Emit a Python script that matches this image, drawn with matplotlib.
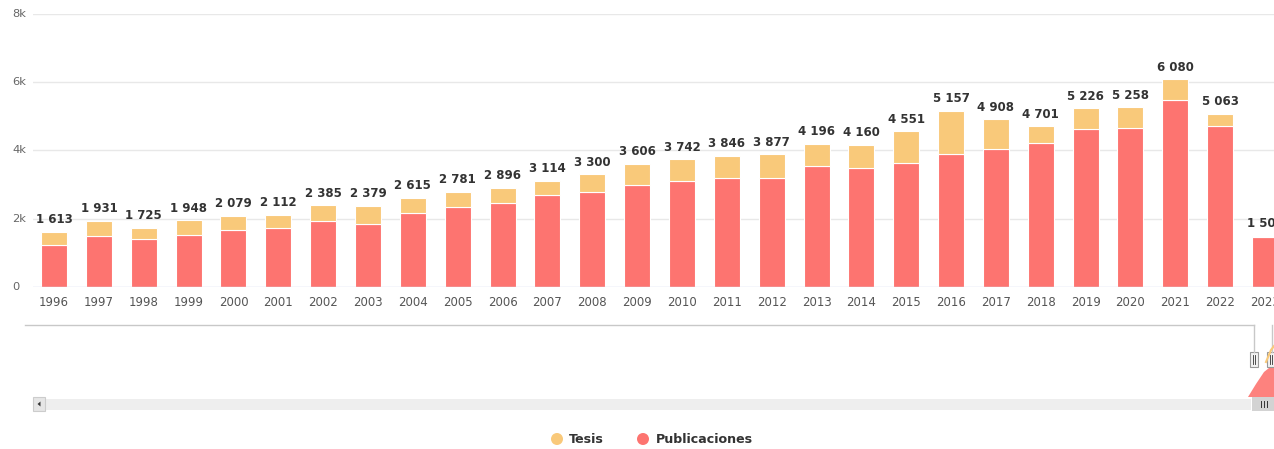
import matplotlib
matplotlib.use('Agg')
import matplotlib.pyplot as plt
import matplotlib.transforms as mtransforms
from matplotlib.patches import Rectangle, Polygon

# ---------------- data ----------------
years = list(range(1996, 2024))
publicaciones = [1235, 1480, 1412, 1510, 1657, 1716, 1922, 1853, 2167, 2333,
                 2451, 2686, 2784, 2990, 3098, 3196, 3196, 3539, 3490, 3618,
                 3902, 4039, 4206, 4618, 4657, 5480, 4716, 1460]
tesis = [378, 451, 313, 438, 422, 396, 463, 526, 448, 448,
         445, 428, 516, 616, 644, 650, 681, 657, 670, 933,
         1255, 869, 495, 608, 601, 600, 347, 42]
y_ticks = [0, 2000, 4000, 6000, 8000]
y_tick_labels = ['0', '2k', '4k', '6k', '8k']
series_names = ['Tesis', 'Publicaciones']

# ---------------- style ----------------
W, H, DPI = 1274, 449, 100
C_PUB = '#fd7470'
C_TES = '#f9c97a'
PX = 0.72  # points per pixel at 100 dpi

fig = plt.figure(figsize=(W / DPI, H / DPI), dpi=DPI)
fig.patch.set_facecolor('white')

# overlay axes in pixel coordinates (navigator, legend)
ov = fig.add_axes([0, 0, 1, 1])
ov.set_xlim(0, W)
ov.set_ylim(H, 0)
ov.axis('off')

# main axes
left_px, right_px, top_px, bottom_px = 33, 1274, 13.5, 287
ax = fig.add_axes([left_px / W, (H - bottom_px) / H,
                   (right_px - left_px) / W, (bottom_px - top_px) / H])
ax.set_facecolor('none')
ax.set_xlim(1995.53, 2023.2)
ax.set_ylim(0, 8000)

bw = 0.58
ax.bar(years, publicaciones, width=bw, color=C_PUB, edgecolor='white',
       linewidth=0.8, zorder=3)
ax.bar(years, tesis, width=bw, bottom=publicaciones, color=C_TES,
       edgecolor='white', linewidth=0.8, zorder=3)

totals = [p + t for p, t in zip(publicaciones, tesis)]
for x, tot in zip(years, totals):
    lab = f'{tot:,}'.replace(',', ' ')
    ax.annotate(lab, (x, tot), xytext=(0, 4), textcoords='offset points',
                ha='center', va='bottom', fontsize=11.8 * PX,
                fontweight='bold', color='#333333', zorder=5,
                annotation_clip=False)

# grid
for yv in y_ticks[1:]:
    ax.axhline(yv, color='#e8e8e8', linewidth=1.0, zorder=1)
ax.axhline(0, color='#ccd6eb', linewidth=1.0, zorder=4)

for s in ax.spines.values():
    s.set_visible(False)
ax.set_yticks([])
ax.set_xticks(years)
ax.set_xticklabels([str(y) for y in years], fontsize=11.8 * PX, color='#555555')
ax.tick_params(axis='x', length=0, pad=9 * PX)

# y labels (left aligned at figure x=12 px)
trans = mtransforms.blended_transform_factory(fig.transFigure, ax.transData)
for yv, lab in zip(y_ticks, y_tick_labels):
    ax.text(12 / W, yv, lab, transform=trans, ha='left', va='center',
            fontsize=11.5 * PX, color='#666666', clip_on=False)

# ---------------- navigator (decorative) ----------------
ov.plot([25, 1254], [325, 325], color='#c8c8c8', lw=1)
ov.plot([1254, 1254], [325, 352], color='#c8c8c8', lw=1)
ov.plot([1272, 1272], [325, 352], color='#c8c8c8', lw=1)
ov.add_patch(Polygon([[1248, 397], [1256, 384], [1264, 372], [1274, 364], [1274, 397]],
                     closed=True, facecolor=C_PUB, edgecolor='none', alpha=0.9))
ov.plot([1266, 1271, 1274], [362, 350, 346], color=C_TES, lw=1.5)
for hx in (1250, 1267):
    ov.add_patch(Rectangle((hx, 352), 8, 15, facecolor='#f2f2f2',
                           edgecolor='#999999', lw=0.8))
    ov.plot([hx + 3, hx + 3], [355, 364], color='#333333', lw=0.6)
    ov.plot([hx + 5, hx + 5], [355, 364], color='#333333', lw=0.6)

# scrollbar
ov.add_patch(Rectangle((39, 398.5), 1212, 11, facecolor='#eeeeee', edgecolor='none'))
ov.add_patch(Rectangle((33, 397), 12, 14, facecolor='#e6e6e6',
                       edgecolor='#cccccc', lw=0.8))
ov.add_patch(Polygon([[37.5, 404], [40.5, 401.5], [40.5, 406.5]], closed=True,
                     facecolor='#333333', edgecolor='none'))
ov.add_patch(Rectangle((1252, 397), 22, 14, facecolor='#d3d3d3', edgecolor='none'))
for lx in (1261, 1264, 1267):
    ov.plot([lx, lx], [400.5, 407], color='#333333', lw=0.7)

# ---------------- legend ----------------
ov.scatter([557], [439], s=(12 * PX) ** 2, color=C_TES, edgecolors='none')
ov.text(569, 439.5, series_names[0], ha='left', va='center',
        fontsize=12.6 * PX, fontweight='bold', color='#333333')
ov.scatter([643], [439], s=(12 * PX) ** 2, color=C_PUB, edgecolors='none')
ov.text(656, 439.5, series_names[1], ha='left', va='center',
        fontsize=12.6 * PX, fontweight='bold', color='#333333')

fig.savefig('out.png', dpi=DPI, facecolor='white')
